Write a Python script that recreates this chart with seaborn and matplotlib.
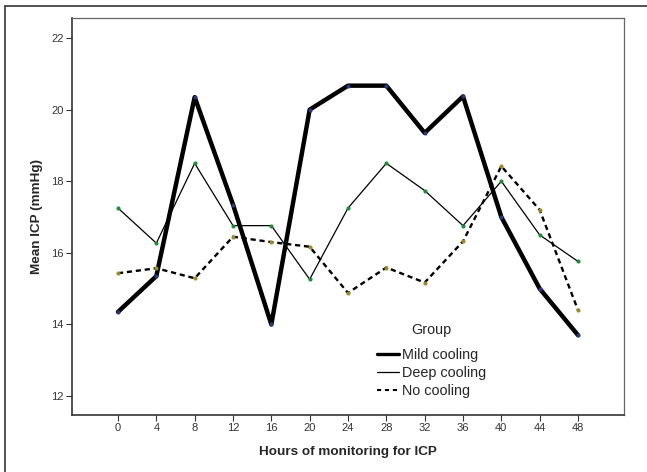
import matplotlib
matplotlib.use("Agg")
import matplotlib.pyplot as plt
from matplotlib.lines import Line2D
import seaborn as sns
import pandas as pd

hours = [0, 4, 8, 12, 16, 20, 24, 28, 32, 36, 40, 44, 48]
mild_cooling = [14.35, 15.35, 20.35, 17.35, 14.0, 20.0, 20.67, 20.67, 19.35, 20.37, 17.0, 15.0, 13.7]
deep_cooling = [17.25, 16.27, 18.5, 16.76, 16.76, 15.26, 17.25, 18.5, 17.74, 16.76, 18.0, 16.5, 15.76]
no_cooling = [15.43, 15.57, 15.29, 16.45, 16.3, 16.17, 14.88, 15.59, 15.17, 16.32, 18.42, 17.2, 14.4]
groups = ["Mild cooling", "Deep cooling", "No cooling"]
y_ticks = [12, 14, 16, 18, 20, 22]

sns.set_style("ticks")
plt.rcParams["font.family"] = ["Liberation Sans", "DejaVu Sans"]

df = pd.DataFrame({
    "Hours": hours * 3,
    "ICP": mild_cooling + deep_cooling + no_cooling,
    "Group": [groups[0]] * len(hours) + [groups[1]] * len(hours) + [groups[2]] * len(hours),
})

fig = plt.figure(figsize=(6.47, 4.72), dpi=100)
ax = fig.add_axes([72 / 647, 1 - 415 / 472, 552 / 647, 397 / 472])

styles = {
    "Mild cooling": dict(lw=3.2, ls="-", mc="#2b3a7a", hlw=2.4),
    "Deep cooling": dict(lw=0.9, ls="-", mc="#1f8a3a", hlw=0.9),
    "No cooling": dict(lw=1.7, ls=(0, (2.2, 1.6)), mc="#9a8a2a", hlw=1.5),
}
for g in groups:
    st = styles[g]
    sub = df[df["Group"] == g]
    sns.lineplot(data=sub, x="Hours", y="ICP", ax=ax, color="black",
                 linewidth=st["lw"], linestyle=st["ls"], marker="o",
                 markersize=2.2, markerfacecolor=st["mc"], markeredgecolor=st["mc"],
                 legend=False)

ax.set_xlim(-4.8, 52.8)
ax.set_ylim(11.47, 22.56)
ax.set_xticks(hours)
ax.set_yticks(y_ticks)
ax.tick_params(axis="both", labelsize=8, length=4, width=0.8, pad=2, colors="#333333")
ax.set_xlabel("Hours of monitoring for ICP", fontsize=9.7, fontweight="bold", labelpad=9)
ax.set_ylabel("Mean ICP (mmHg)", fontsize=9.7, fontweight="bold", labelpad=6)

for side in ["left", "bottom"]:
    ax.spines[side].set_color("#333333")
    ax.spines[side].set_linewidth(1.2)
for side in ["top", "right"]:
    ax.spines[side].set_visible(True)
    ax.spines[side].set_color("#666666")
    ax.spines[side].set_linewidth(0.9)

handles = [Line2D([], [], color="black", lw=styles[g]["hlw"],
                  ls=(0, (2.0, 1.8)) if g == "No cooling" else "-") for g in groups]
leg = ax.legend(handles, groups, title="Group", loc="upper left",
                bbox_to_anchor=(377 / 647, 1 - 323 / 472), bbox_transform=fig.transFigure,
                frameon=False, fontsize=10.4, title_fontsize=10.4, borderpad=0,
                handlelength=1.55, handletextpad=0.2, labelspacing=0.29, borderaxespad=0)
leg._legend_box.sep = 8

fig.add_artist(Line2D([5 / 647, 5 / 647], [0, 1 - 6 / 472], transform=fig.transFigure,
                      color="#444444", lw=1.3))
fig.add_artist(Line2D([5 / 647, 1], [1 - 6 / 472, 1 - 6 / 472], transform=fig.transFigure,
                      color="#444444", lw=1.3))

fig.savefig("out.png", dpi=100)
